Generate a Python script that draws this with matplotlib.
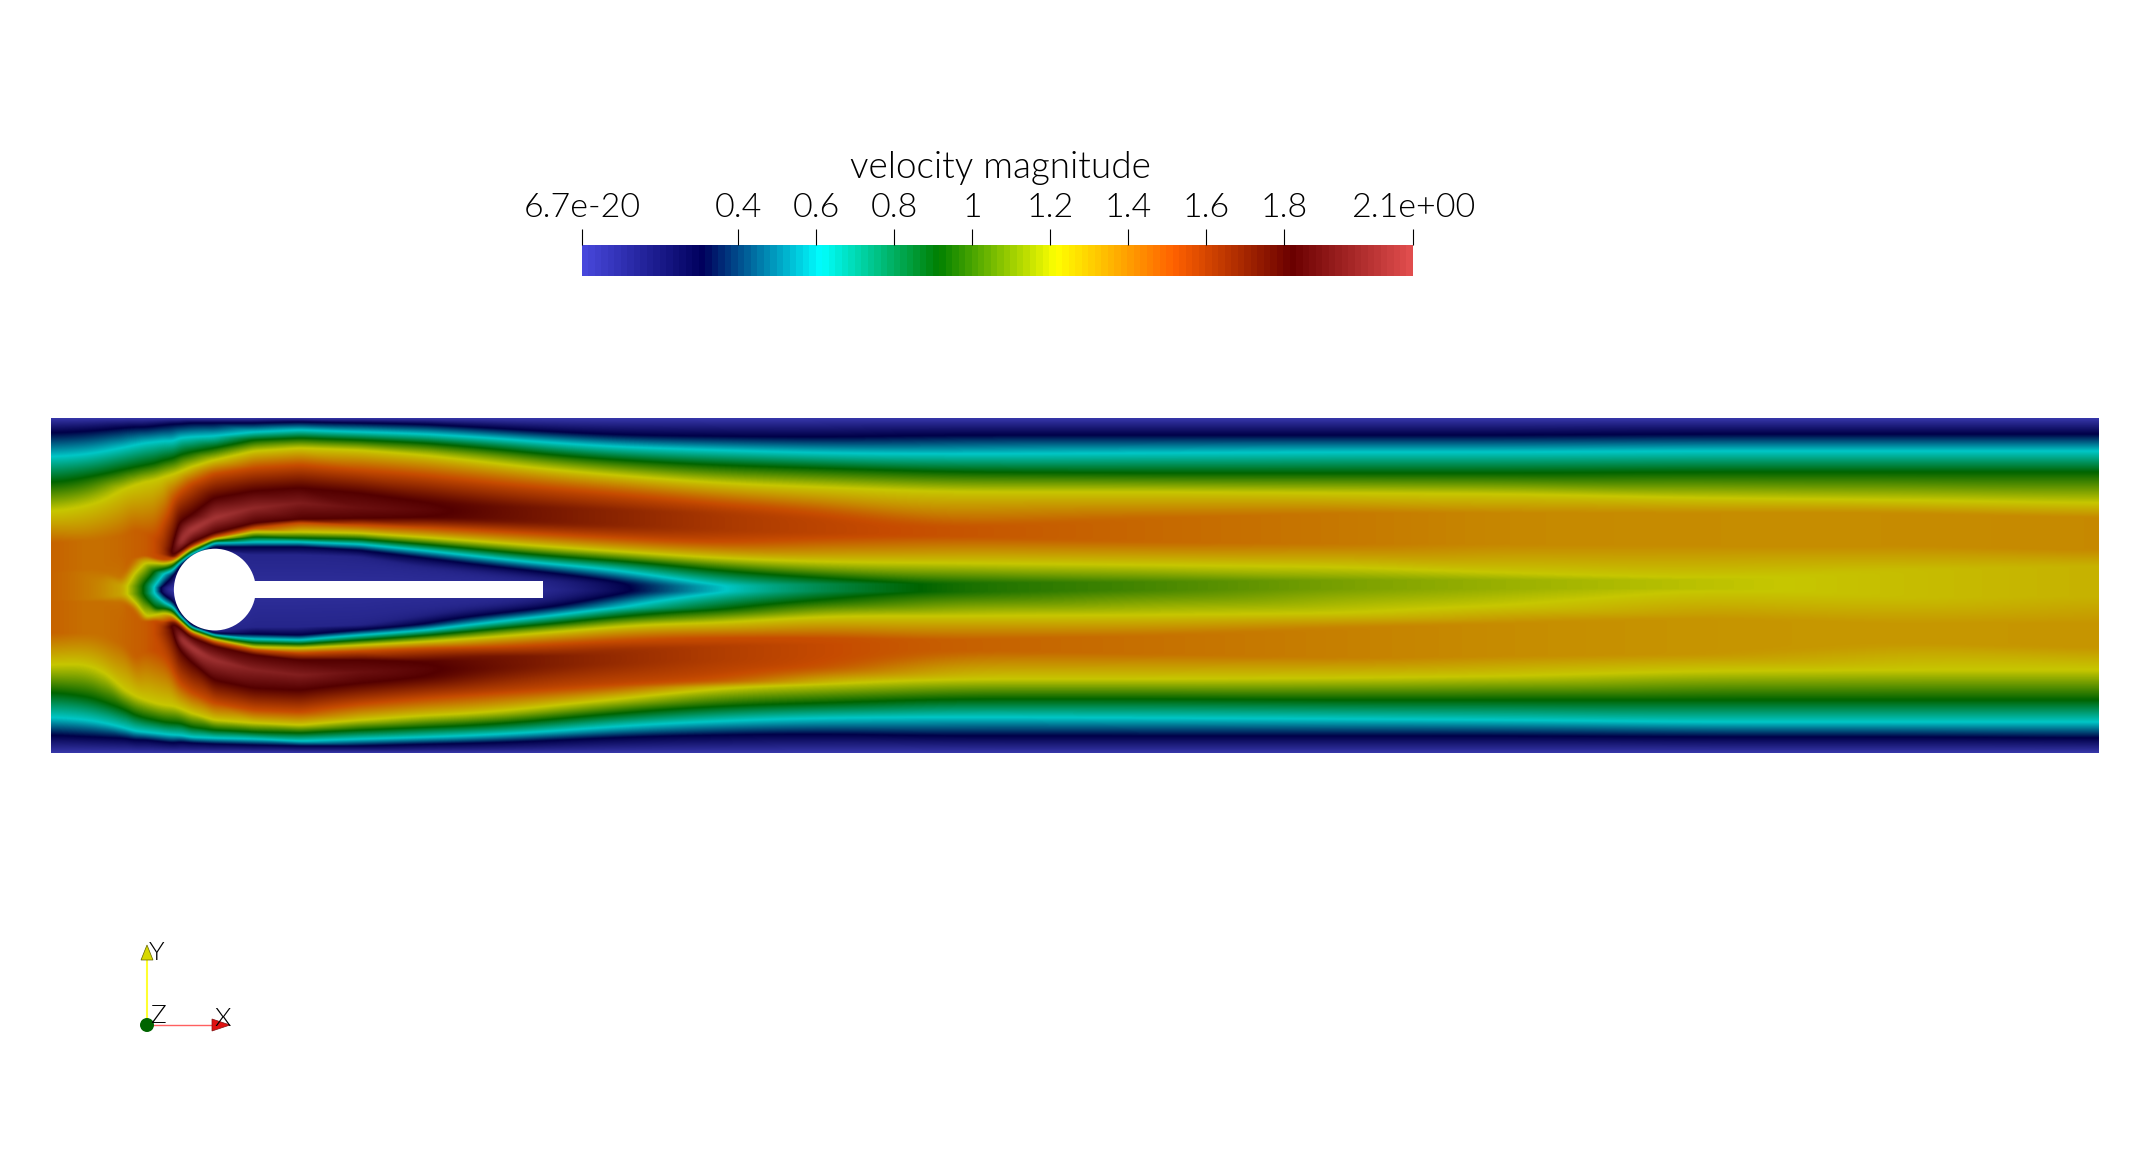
import numpy as np
import matplotlib
matplotlib.use("Agg")
import matplotlib.pyplot as plt
from matplotlib.colors import LinearSegmentedColormap, ListedColormap
from matplotlib.patches import Circle, Rectangle, Polygon
from matplotlib.tri import Triangulation, LinearTriInterpolator

# ---- data -----------------------------------------------------------------
title = "velocity magnitude"
speed_min = 0.0
speed_max = 2.13
tick_values = [0.0, 0.4, 0.6, 0.8, 1.0, 1.2, 1.4, 1.6, 1.8, 2.13]
tick_labels = ["6.7e-20", "0.4", "0.6", "0.8", "1", "1.2", "1.4", "1.6", "1.8", "2.1e+00"]

channel_length = 2.5
channel_height = 0.41
cylinder_centre = (0.2, 0.2)
cylinder_radius = 0.05
flag_end = 0.6
flag_half = 0.01

# stations along the channel and the depths of iso-speed lines, measured on the picture
meas_length = 2048.0
meas_height = 335.0
stations = [0, 40, 70, 84, 94, 104, 113, 123, 128, 140, 163, 203, 249, 310, 379, 440, 502,
            566, 662, 766, 899, 1099, 1292, 1459, 1649, 1850, 2048]
peak_top = [1.47, 1.42, 1.45, 1.47, 1.48, 1.52, 1.62, 1.9, 2.12, 2.13, 2.1, 2.03, 1.97, 1.9, 1.86, 1.78, 1.72,
            1.68, 1.6, 1.55, 1.5, 1.45, 1.41, 1.37, 1.36, 1.36, 1.37]
peak_bot = [1.47, 1.42, 1.45, 1.47, 1.48, 1.52, 1.62, 1.9, 2.12, 2.13, 2.07, 2.0, 1.98, 1.9, 1.85, 1.76, 1.7,
            1.65, 1.58, 1.53, 1.47, 1.43, 1.39, 1.36, 1.34, 1.33, 1.34]
core = [1.47, 1.4, 1.33, 1.08, 0.88, 0.6, 0.15, 0, 0, 0, 0, 0.05, 0.05, 0.05, 0.05, 0.05, 0.05,
        0.25, 0.6, 0.8, 0.95, 1.02, 1.1, 1.15, 1.2, 1.24, 1.27]

# speed carried by the iso-lines: wall side, up to the peak, then back down to the core
outer_levels = [0.304, 0.609, 0.913, 1.217, 1.521, 1.826]
inner_levels = [1.826, 1.521, 1.217, 0.913, 0.609, 0.304, 0.1]

upper_depths = [
    [15, 39, 65, 94, 125, 135, 145, 150, 155, 158, 160, 162, 165, 168, 172],
    [13, 36, 59, 87, 122, 130, 140, 145, 150, 154, 158, 162, 165, 168, 172],
    [10, 30, 52, 72, 118, 124, 130, 140, 160, 168, 169, 170, 171, 171.5, 172],
    [9, 27, 49, 67, 112, 115, 118, 130, 140, 155, 168, 169, 170, 171, 172],
    [9, 25, 47, 64, 115, 118, 120, 130, 137, 145, 165, 169, 170, 171, 172],
    [8, 24, 45, 62, 120, 124, 128, 134, 140, 145, 153, 168, 169, 170, 172],
    [7, 23, 42, 59, 105, 128, 131, 136, 142, 146, 151, 156, 167, 170, 172],
    [6, 23, 40, 56, 82, 128, 136, 139, 141, 144, 148, 152, 158, 165, 172],
    [6, 20, 37, 54, 75, 105, 125, 134, 137, 140, 143, 145, 149, 152, 172],
    [5, 19, 34, 49, 66, 97, 112, 125, 129, 131, 134, 136, 139, 141, 172],
    [5, 18, 30, 42, 56, 80, 100, 115, 119, 121, 123, 125, 129, 132, 172],
    [5, 14, 22, 33, 50, 73, 90, 105, 110, 114, 119, 124, 129, 137, 172],
    [4, 12, 20, 30, 47, 70, 85, 101, 105, 114, 120, 124, 129, 137, 172],
    [5, 14, 22, 32, 52, 75, 90, 100, 107, 115, 121, 126, 132, 139, 172],
    [6, 16, 25, 37, 57, 84, 92, 99, 110, 120, 127, 133, 140, 150, 172],
    [10, 20, 30, 44, 64, 88, 95, 102, 113, 125, 133, 140, 147, 155, 172],
    [14, 25, 37, 52, 70, 90, 97, 105, 117, 129, 139, 147, 155, 162, 172],
    [17, 29, 42, 57, 75, 92, 100, 108, 120, 134, 142, 151, 163, 166, 170],
    [18, 32, 47, 65, 85, 95, 104, 112, 125, 140, 152, 168, 169, 170, 171],
    [19, 35, 50, 69, 94, 102, 110, 115, 120, 144, 160, 166, 167, 168, 170],
    [17, 36, 54, 74, 110, 112, 114, 116, 118, 145, 165, 166, 167, 168, 170],
    [17, 35, 55, 74, 100, 105, 112, 118, 124, 147, 164, 165, 166, 167, 168],
    [17, 34, 55, 75, 95, 100, 110, 118, 126, 149, 162, 163, 164, 165, 167],
    [17, 34, 55, 76, 95, 100, 110, 118, 126, 155, 162, 163, 164, 165, 167],
    [16, 33, 54, 80, 95, 102, 118, 122, 128, 160, 162, 163, 164, 165, 167],
    [16, 33, 54, 82, 95, 105, 118, 122, 128, 152, 153, 154, 155, 156, 167],
    [16, 33, 54, 85, 100, 108, 122, 126, 132, 148, 149, 150, 151, 152, 168],
]
lower_depths = [
    [174, 176, 178, 180, 182, 184, 186, 190, 200, 215, 247, 274, 299, 317],
    [174, 176, 178, 180, 182, 184, 186, 190, 200, 215, 245, 279, 302, 319],
    [173, 174, 175, 176, 177, 184, 200, 208, 215, 225, 270, 290, 309, 320],
    [173, 174, 175, 176, 184, 192, 205, 215, 225, 240, 278, 297, 313, 322],
    [173, 174, 175, 179, 199, 204, 212, 218, 224, 234, 282, 300, 314, 322],
    [173, 174, 176, 191, 197, 203, 208, 212, 216, 232, 285, 302, 315, 323],
    [174, 177, 185, 190, 195, 204, 209, 212, 216, 238, 287, 304, 316, 324],
    [177, 184, 189, 193, 197, 201, 205, 208, 212, 255, 288, 305, 317, 325],
    [192, 194, 197, 200, 202, 204, 209, 219, 230, 265, 290, 305, 317, 324],
    [205, 207, 209, 211, 213, 215, 219, 229, 243, 274, 295, 309, 319, 325],
    [213, 215, 217, 219, 221, 224, 228, 242, 262, 285, 302, 312, 320, 326],
    [209, 216, 221, 225, 229, 232, 237, 252, 270, 292, 305, 314, 321, 327],
    [209, 217, 222, 226, 230, 235, 242, 257, 272, 294, 307, 315, 323, 328],
    [207, 212, 217, 222, 227, 233, 242, 254, 265, 286, 302, 312, 321, 328],
    [197, 206, 212, 217, 223, 230, 244, 250, 259, 280, 297, 309, 319, 326],
    [188, 196, 203, 210, 218, 229, 238, 245, 252, 276, 295, 307, 317, 325],
    [182, 190, 198, 206, 214, 226, 238, 243, 248, 272, 288, 301, 313, 322],
    [173, 176, 188, 197, 207, 222, 232, 238, 245, 268, 281, 295, 308, 319],
    [172, 173, 174, 192, 205, 220, 228, 235, 242, 262, 270, 288, 303, 317],
    [171, 172, 173, 181, 198, 220, 226, 232, 238, 248, 266, 285, 300, 316],
    [171, 172, 173, 174, 198, 222, 224, 226, 228, 232, 261, 281, 299, 318],
    [169, 170, 171, 172, 197, 218, 222, 226, 230, 236, 261, 281, 300, 318],
    [168, 169, 170, 171, 195, 210, 218, 226, 232, 240, 260, 282, 301, 318],
    [168, 169, 170, 171, 187, 205, 216, 224, 230, 238, 258, 282, 302, 318],
    [168, 169, 170, 171, 172, 200, 212, 220, 228, 236, 253, 282, 304, 319],
    [175, 176, 177, 178, 180, 205, 210, 215, 220, 225, 252, 282, 304, 319],
    [172, 173, 174, 175, 178, 205, 210, 216, 222, 230, 252, 282, 304, 320],
]

# ParaView "rainbow desaturated" colour stops
rainbow_stops = ["#4747db", "#00005c", "#00ffff", "#008000", "#ffff00", "#ff6100", "#6b0000", "#e04d4d"]
surface_shade = 0.78
bar_table_size = 128
field_table_size = 512

# ---- colours ----------------------------------------------------------------
bar_cmap = LinearSegmentedColormap.from_list("rainbow_bar", rainbow_stops, N=bar_table_size)
fine = LinearSegmentedColormap.from_list("rainbow_fine", rainbow_stops, N=field_table_size)
shaded = fine(np.arange(field_table_size)).copy()
shaded[:, :3] *= surface_shade
field_cmap = ListedColormap(shaded)

# ---- field: curvilinear mesh following the iso-speed lines -------------------
n_st = len(stations)
xs, ys, vs = [], [], []
for i in range(n_st):
    d = [0] + upper_depths[i] + lower_depths[i] + [meas_height]
    p, q, c = peak_top[i], peak_bot[i], core[i]
    v = [0.0]
    v += [min(l, p) for l in outer_levels] + [p]
    v += [max(min(l, p), c) for l in inner_levels] + [c]
    v += [max(min(l, q), c) for l in inner_levels[::-1]] + [q]
    v += [min(l, q) for l in outer_levels[::-1]] + [0.0]
    xs.append(np.full(len(d), stations[i] / meas_length * channel_length))
    ys.append(channel_height * (1 - np.array(d, float) / meas_height))
    vs.append(np.array(v, float))
xs, ys, vs = np.array(xs), np.array(ys), np.array(vs)
n_nodes = xs.shape[1]
tris = []
for i in range(n_st - 1):
    for j in range(n_nodes - 1):
        a = i * n_nodes + j
        b = a + n_nodes
        tris += [[a, b, b + 1], [a, b + 1, a + 1]]
tri = Triangulation(xs.ravel(), ys.ravel(), np.array(tris))
interp = LinearTriInterpolator(tri, vs.ravel())

W, H = 2150, 1172
fig = plt.figure(figsize=(W / 100, H / 100), dpi=100, facecolor="white")
plt.rcParams["font.family"] = ["Lato", "DejaVu Sans"]
text_weight = 300


def px_axes(l, t, r, b, **kw):
    return fig.add_axes([l / W, 1 - b / H, (r - l) / W, (b - t) / H], **kw)


ax = px_axes(51, 418, 2099, 753)
gx = (np.arange(2048) + 0.5) / 2048 * channel_length
gy = (np.arange(670) + 0.5) / 670 * channel_height
GX, GY = np.meshgrid(gx, gy)
F = np.asarray(interp(GX, GY).filled(0.0))


def box_x(a, w):
    pad = np.pad(a, ((0, 0), (w // 2 + 1, w // 2)), mode="edge")
    c = np.cumsum(pad, axis=1)
    return (c[:, w:] - c[:, :-w]) / w


def smooth_x(a, w):
    return box_x(box_x(a, w), w)


# soften the corners that straight segments between stations leave behind
near = smooth_x(F, 7)
upstream = smooth_x(F, 31)
far = smooth_x(F, 91)
xpos = np.arange(2048.0)
t_up = np.clip((75 - xpos) / 25, 0, 1)
t_far = np.clip((xpos - 260) / 160, 0, 1)
F_s = near * (1 - t_up - t_far) + upstream * t_up + far * t_far

ax.imshow(F_s, origin="lower", extent=[0, channel_length, 0, channel_height], aspect="auto",
          cmap=field_cmap, vmin=speed_min, vmax=speed_max, interpolation="bilinear")
ax.add_patch(Circle(cylinder_centre, cylinder_radius, fc="white", ec="none", zorder=3))
ax.add_patch(Rectangle((cylinder_centre[0], cylinder_centre[1] - flag_half),
                       flag_end - cylinder_centre[0], 2 * flag_half, fc="white", ec="none", zorder=3))
ax.set_xlim(0, channel_length)
ax.set_ylim(0, channel_height)
ax.axis("off")

# ---- colour bar -------------------------------------------------------------
cax = px_axes(582, 245, 1413, 276)
grad = np.linspace(speed_min, speed_max, bar_table_size)[None, :]
cax.imshow(grad, extent=[speed_min, speed_max, 0, 1], aspect="auto", cmap=bar_cmap,
           vmin=speed_min, vmax=speed_max, interpolation="nearest")
cax.set_xlim(speed_min, speed_max)
cax.set_yticks([])
for s in cax.spines.values():
    s.set_visible(False)
cax.xaxis.tick_top()
cax.set_xticks(tick_values)
cax.set_xticklabels(tick_labels, fontsize=24.5, color="black", fontweight=text_weight)
cax.tick_params(axis="x", which="major", direction="out", length=11.5, width=0.8, pad=4, color="black")
cax.set_xticks(tick_values, minor=True)
cax.tick_params(axis="x", which="minor", direction="in", length=5, width=0.8, color="black", top=True)
fig.text(1000 / W, 1 - 168.5 / H, title, ha="center", va="center", fontsize=26.6, color="black",
         fontweight=text_weight)

# ---- orientation triad -------------------------------------------------------
tax = px_axes(0, 0, W, H)
tax.set_xlim(0, W)
tax.set_ylim(H, 0)
tax.axis("off")
tax.patch.set_alpha(0)
tax.plot([147, 147], [1025, 960], color="#ffff30", lw=1.5, zorder=1)
tax.plot([147, 212], [1025, 1025], color="#ff6060", lw=1.0, zorder=1)
tax.add_patch(Polygon([[141, 960], [153, 960], [147, 945]], fc="#d8d800", ec="#606000", lw=0.5, zorder=2))
tax.add_patch(Polygon([[212, 1019], [212, 1031], [230, 1025]], fc="#e01010", ec="#801010", lw=0.5, zorder=2))
tax.add_patch(Circle((147, 1025), 7, fc="#006400", ec="none", zorder=3))
tax.text(157, 953, "Y", ha="center", va="center", fontsize=19, fontweight=text_weight, zorder=4)
tax.text(158, 1016, "Z", ha="center", va="center", fontsize=19, fontweight=text_weight, zorder=4)
tax.text(223, 1019, "X", ha="center", va="center", fontsize=19, fontweight=text_weight, zorder=4)

fig.savefig("out.png", dpi=100, facecolor="white")
